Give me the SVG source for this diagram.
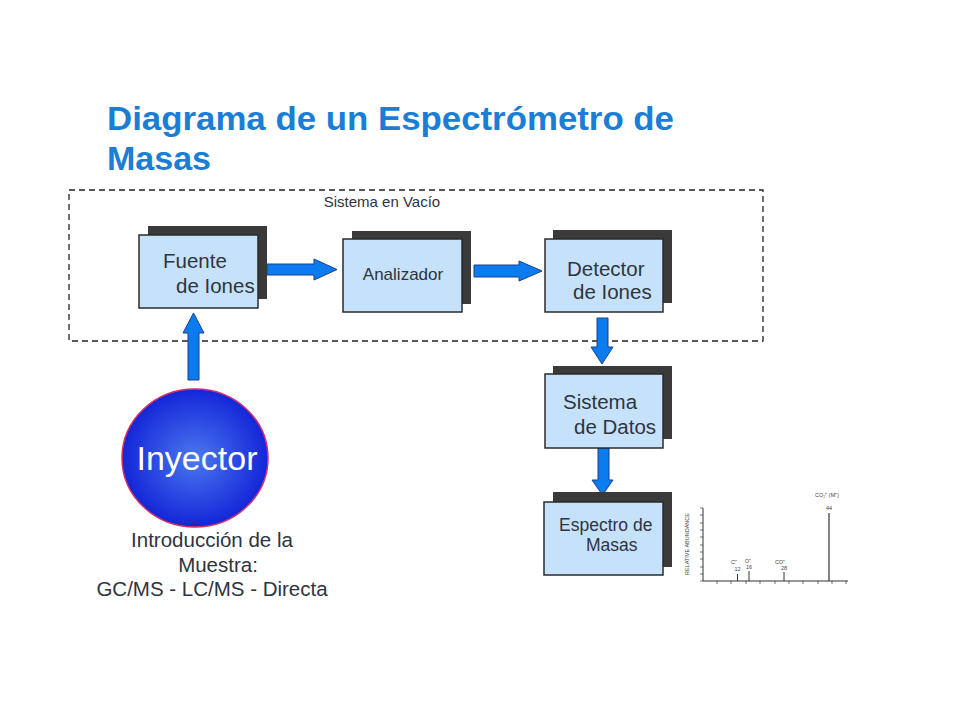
<svg xmlns="http://www.w3.org/2000/svg" width="960" height="720" viewBox="0 0 960 720">
<style>
.t{font-family:"Liberation Sans",Arial,sans-serif;fill:#2e3440}
.title{font-family:"Liberation Sans",Arial,sans-serif;font-weight:bold;font-size:34px;fill:#1a7dd6}
.shadow{fill:#3a3a3a}
.box{fill:#c6e2fb;stroke:#2a2a2a;stroke-width:1.5}
.arrow{fill:#0a7cf0;stroke:#1c3f8a;stroke-width:1}
.sp{font-family:"Liberation Sans",Arial,sans-serif;font-size:5.5px;fill:#444}
</style>
<defs>
<radialGradient id="g" cx="0.5" cy="0.5" r="0.5">
<stop offset="0" stop-color="#4a78f0"/>
<stop offset="1" stop-color="#1426d8"/>
</radialGradient>
</defs>
<rect width="960" height="720" fill="#fff"/>
<text class="title" x="107" y="130" textLength="567" lengthAdjust="spacingAndGlyphs">Diagrama de un Espectrómetro de</text>
<text class="title" x="107" y="170">Masas</text>

<g id="vacuum">
<rect x="69" y="190" width="694" height="151" fill="none" stroke="#222" stroke-width="1.3" stroke-dasharray="6,4"/>
<text class="t" x="382" y="207" font-size="15" text-anchor="middle">Sistema en Vacío</text>
</g>

<g id="connectors">
<path class="arrow" d="M267,264 H314 V259 L337,269.5 L314,280 V275 H267 Z"/>
<path class="arrow" d="M474,265 H519 V261 L542,271 L519,281 V277 H474 Z"/>
<path class="arrow" d="M597,318 V347 H591 L602,364 L613,347 H608 V318 Z"/>
<path class="arrow" d="M598,448 V480 H592 L602.5,495 L613,480 H609 V448 Z"/>
<path class="arrow" d="M188,380 V333 H183 L193.5,313 L204,333 H199 V380 Z"/>
</g>

<g id="fuente">
<rect class="shadow" x="148" y="226" width="119" height="73"/>
<rect class="box" x="139" y="235" width="119" height="73"/>
<text class="t" x="163" y="268" font-size="20.5">Fuente</text>
<text class="t" x="176" y="293" font-size="20.5">de Iones</text>
</g>

<g id="analizador">
<rect class="shadow" x="352" y="231" width="119" height="73"/>
<rect class="box" x="343" y="239" width="119" height="73"/>
<text class="t" x="403" y="280" font-size="17" text-anchor="middle">Analizador</text>
</g>

<g id="detector">
<rect class="shadow" x="553" y="230" width="119" height="73"/>
<rect class="box" x="545" y="239" width="118" height="73"/>
<text class="t" x="567" y="276" font-size="20.5">Detector</text>
<text class="t" x="573" y="299" font-size="20.5">de Iones</text>
</g>

<g id="datos">
<rect class="shadow" x="553" y="366" width="119" height="73"/>
<rect class="box" x="545" y="374" width="118" height="74"/>
<text class="t" x="563" y="409" font-size="20.5">Sistema</text>
<text class="t" x="574" y="434" font-size="20.5">de Datos</text>
</g>

<g id="espectro">
<rect class="shadow" x="553" y="492" width="119" height="75"/>
<rect class="box" x="544" y="502" width="119" height="73"/>
<text class="t" x="559" y="531" font-size="17.5">Espectro de</text>
<text class="t" x="586" y="551" font-size="17.5">Masas</text>
</g>

<g id="inyector">
<ellipse cx="195" cy="458" rx="73" ry="69" fill="url(#g)" stroke="#d0306a" stroke-width="1.5"/>
<text x="197" y="470" font-family="Liberation Sans,Arial,sans-serif" font-size="34" fill="#fff" text-anchor="middle">Inyector</text>
<text class="t" x="212" y="547" font-size="20.5" text-anchor="middle">Introducción de la</text>
<text class="t" x="218" y="572" font-size="20.5" text-anchor="middle">Muestra:</text>
<text class="t" x="212" y="596" font-size="20.5" text-anchor="middle">GC/MS - LC/MS - Directa</text>
</g>

<g id="spectrum" stroke="#333" fill="none">
<line x1="703" y1="508" x2="703" y2="581" stroke-width="1"/>
<line x1="703" y1="581" x2="848" y2="581" stroke-width="1"/>
<g stroke-width="0.7">
<line x1="700" y1="581" x2="703" y2="581"/><line x1="700" y1="574" x2="703" y2="574"/><line x1="700" y1="567" x2="703" y2="567"/><line x1="700" y1="559" x2="703" y2="559"/><line x1="700" y1="552" x2="703" y2="552"/><line x1="700" y1="545" x2="703" y2="545"/><line x1="700" y1="537" x2="703" y2="537"/><line x1="700" y1="530" x2="703" y2="530"/><line x1="700" y1="523" x2="703" y2="523"/><line x1="700" y1="515" x2="703" y2="515"/><line x1="700" y1="508" x2="703" y2="508"/>
<line x1="717" y1="581" x2="717" y2="584"/><line x1="731" y1="581" x2="731" y2="584"/><line x1="746" y1="581" x2="746" y2="584"/><line x1="760" y1="581" x2="760" y2="584"/><line x1="775" y1="581" x2="775" y2="584"/><line x1="789" y1="581" x2="789" y2="584"/><line x1="803" y1="581" x2="803" y2="584"/><line x1="818" y1="581" x2="818" y2="584"/><line x1="832" y1="581" x2="832" y2="584"/><line x1="846" y1="581" x2="846" y2="584"/>
</g>
<line x1="737.5" y1="581" x2="737.5" y2="574" stroke-width="1"/>
<line x1="749" y1="581" x2="749" y2="571" stroke-width="1"/>
<line x1="784" y1="581" x2="784" y2="572" stroke-width="1"/>
<line x1="829" y1="581" x2="829" y2="513" stroke-width="1.2"/>
</g>
<g id="spectrum-labels">
<text class="sp" x="734" y="564" text-anchor="middle">C⁺</text>
<text class="sp" x="737.5" y="571" text-anchor="middle">12</text>
<text class="sp" x="748" y="563" text-anchor="middle">O⁺</text>
<text class="sp" x="749" y="569" text-anchor="middle">16</text>
<text class="sp" x="780" y="564" text-anchor="middle">CO⁺</text>
<text class="sp" x="784" y="570" text-anchor="middle">28</text>
<text class="sp" x="827" y="497" text-anchor="middle">CO₂⁺ (M⁺)</text>
<text class="sp" x="829" y="510" text-anchor="middle">44</text>
<text class="sp" x="689" y="544" text-anchor="middle" transform="rotate(-90 689 544)">RELATIVE ABUNDANCE</text>
</g>
</svg>
